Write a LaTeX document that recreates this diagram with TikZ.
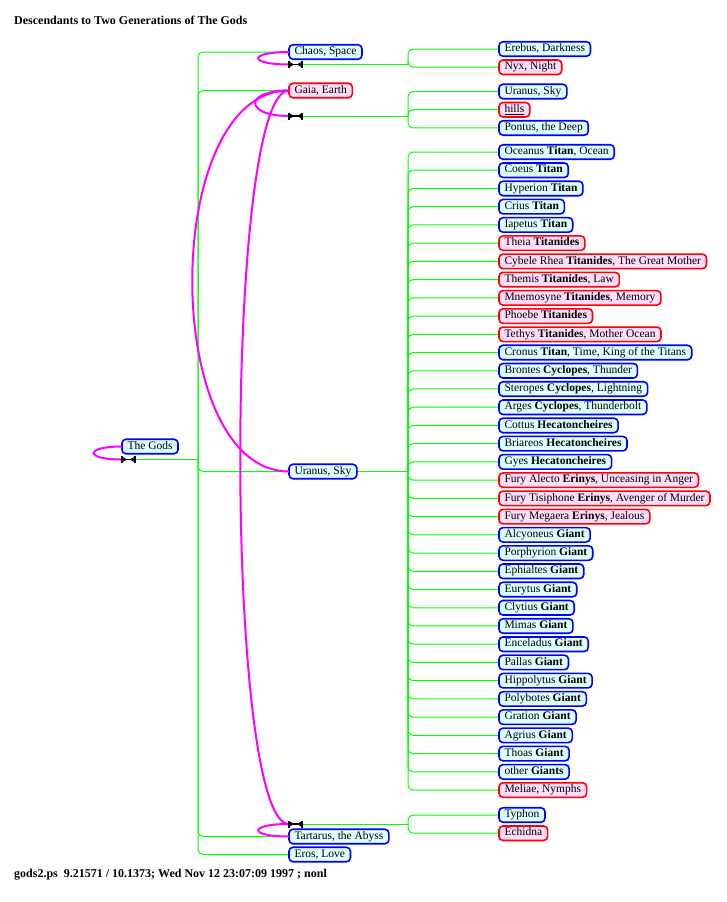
\documentclass[tikz,border=0pt]{standalone}
\usepackage{fontspec}
\setmainfont{Liberation Serif}
\usepackage{tikz}
\usepackage{xcolor}
\usetikzlibrary{positioning, backgrounds}

\definecolor{sonblue}{RGB}{0,0,255}
\definecolor{daughterred}{RGB}{255,0,0}
\definecolor{sonfill}{RGB}{222,255,255}
\definecolor{daughterfill}{RGB}{255,220,250}
\definecolor{linegreen}{RGB}{0,255,0}
\definecolor{loopmagenta}{RGB}{255,0,255}

\tikzstyle{male}   = [rectangle, rounded corners=4pt, draw=sonblue, fill=sonfill, line width=1.6pt, minimum height=14.5pt, inner xsep=5.5pt, inner ysep=1.5pt, text height=8pt, text depth=2.6pt, outer sep=0pt, font=\fontsize{11.5}{13}\selectfont]
\tikzstyle{female} = [male, draw=daughterred, fill=daughterfill]
\tikzstyle{wed}    = [rectangle, minimum width=13pt, minimum height=7pt, inner sep=0pt, outer sep=0pt, anchor=west]
\tikzstyle{kid}    = [draw=linegreen, line width=1pt, rounded corners=5pt]
\tikzstyle{spouse} = [draw=loopmagenta, line width=2pt]
\tikzstyle{wedline}= [black, line width=1.1pt]
\tikzstyle{caption}= [anchor=west, inner sep=0pt, font=\fontsize{12}{14}\selectfont\bfseries]

% marriage glyph drawn over a wed node
\newcommand{\wedmark}[1]{%
  \draw [wedline, line width=1.6pt] (#1.north west) -- (#1.south west);
  \draw [wedline, line width=1.6pt] (#1.north east) -- (#1.south east);
  \draw [wedline] (#1.west) -- (#1.east);
  \draw [wedline] ([yshift=-1.2pt]#1.north west) -- ([xshift=4pt]#1.west) -- ([yshift=1.2pt]#1.south west);
  \draw [wedline] ([yshift=-1.2pt]#1.north east) -- ([xshift=-4pt]#1.east) -- ([yshift=1.2pt]#1.south east);
}

\begin{document}
\begin{tikzpicture}[x=1pt, y=-1pt, node distance=3.73pt]

\useasboundingbox (0,0) rectangle (726,902);

\node (title)  [caption] at (14,20)  {Descendants to Two Generations of The Gods};
\node (footer) [caption] at (14,875) {gods2.ps\ \ 9.21571 / 10.1373; Wed Nov 12 23:07:09 1997 ; nonl};

% generation 0 and 1
\node (gods)     [male, anchor=west]   at (122,446.5) {The Gods};
\node (godsw)    [wed]                 at (122,459.5) {};
\node (chaos)    [male, anchor=west]   at (289,52)    {Chaos, Space};
\node (chaosw)   [wed]                 at (289,64.5)  {};
\node (gaia)     [female, anchor=west] at (289,90.5)  {Gaia, Earth};
\node (gaiaw)    [wed]                 at (289,116)   {};
\node (uranus)   [male, anchor=west]   at (289,471.5) {Uranus, Sky};
\node (tartw)    [wed]                 at (289,824)   {};
\node (tartarus) [male, anchor=west]   at (289,836.5) {Tartarus, the Abyss};
\node (eros)     [male, anchor=west]   at (289,854.5) {Eros, Love};

% children of Chaos
\node (erebus) [male, anchor=west] at (499,49) {Erebus, Darkness};
\node (nyx)    [female, below=of erebus.south west, anchor=north west] {Nyx, Night};

% children of Gaia
\node (uransky) [male, anchor=west] at (499,91.5) {Uranus, Sky};
\node (hills)   [female, below=of uransky.south west, anchor=north west] {\underline{hills}};
\node (pontus)  [male,   below=of hills.south west,   anchor=north west] {Pontus, the Deep};

% children of Uranus and Gaia
\node (oceanus)    [male, anchor=west] at (499,152) {Oceanus \textbf{Titan}, Ocean};
\node (coeus)      [male,   below=of oceanus.south west,    anchor=north west] {Coeus \textbf{Titan}};
\node (hyperion)   [male,   below=of coeus.south west,      anchor=north west] {Hyperion \textbf{Titan}};
\node (crius)      [male,   below=of hyperion.south west,   anchor=north west] {Crius \textbf{Titan}};
\node (iapetus)    [male,   below=of crius.south west,      anchor=north west] {Iapetus \textbf{Titan}};
\node (theia)      [female, below=of iapetus.south west,    anchor=north west] {Theia \textbf{Titanides}};
\node (rhea)       [female, below=of theia.south west,      anchor=north west] {Cybele Rhea \textbf{Titanides}, The Great Mother};
\node (themis)     [female, below=of rhea.south west,       anchor=north west] {Themis \textbf{Titanides}, Law};
\node (mnemosyne)  [female, below=of themis.south west,     anchor=north west] {Mnemosyne \textbf{Titanides}, Memory};
\node (phoebe)     [female, below=of mnemosyne.south west,  anchor=north west] {Phoebe \textbf{Titanides}};
\node (tethys)     [female, below=of phoebe.south west,     anchor=north west] {Tethys \textbf{Titanides}, Mother Ocean};
\node (cronus)     [male,   below=of tethys.south west,     anchor=north west] {Cronus \textbf{Titan}, Time, King of the Titans};
\node (brontes)    [male,   below=of cronus.south west,     anchor=north west] {Brontes \textbf{Cyclopes}, Thunder};
\node (steropes)   [male,   below=of brontes.south west,    anchor=north west] {Steropes \textbf{Cyclopes}, Lightning};
\node (arges)      [male,   below=of steropes.south west,   anchor=north west] {Arges \textbf{Cyclopes}, Thunderbolt};
\node (cottus)     [male,   below=of arges.south west,      anchor=north west] {Cottus \textbf{Hecatoncheires}};
\node (briareos)   [male,   below=of cottus.south west,     anchor=north west] {Briareos \textbf{Hecatoncheires}};
\node (gyes)       [male,   below=of briareos.south west,   anchor=north west] {Gyes \textbf{Hecatoncheires}};
\node (alecto)     [female, below=of gyes.south west,       anchor=north west] {Fury Alecto \textbf{Erinys}, Unceasing in Anger};
\node (tisiphone)  [female, below=of alecto.south west,     anchor=north west] {Fury Tisiphone \textbf{Erinys}, Avenger of Murder};
\node (megaera)    [female, below=of tisiphone.south west,  anchor=north west] {Fury Megaera \textbf{Erinys}, Jealous};
\node (alcyoneus)  [male,   below=of megaera.south west,    anchor=north west] {Alcyoneus \textbf{Giant}};
\node (porphyrion) [male,   below=of alcyoneus.south west,  anchor=north west] {Porphyrion \textbf{Giant}};
\node (ephialtes)  [male,   below=of porphyrion.south west, anchor=north west] {Ephialtes \textbf{Giant}};
\node (eurytus)    [male,   below=of ephialtes.south west,  anchor=north west] {Eurytus \textbf{Giant}};
\node (clytius)    [male,   below=of eurytus.south west,    anchor=north west] {Clytius \textbf{Giant}};
\node (mimas)      [male,   below=of clytius.south west,    anchor=north west] {Mimas \textbf{Giant}};
\node (enceladus)  [male,   below=of mimas.south west,      anchor=north west] {Enceladus \textbf{Giant}};
\node (pallas)     [male,   below=of enceladus.south west,  anchor=north west] {Pallas \textbf{Giant}};
\node (hippolytus) [male,   below=of pallas.south west,     anchor=north west] {Hippolytus \textbf{Giant}};
\node (polybotes)  [male,   below=of hippolytus.south west, anchor=north west] {Polybotes \textbf{Giant}};
\node (gration)    [male,   below=of polybotes.south west,  anchor=north west] {Gration \textbf{Giant}};
\node (agrius)     [male,   below=of gration.south west,    anchor=north west] {Agrius \textbf{Giant}};
\node (thoas)      [male,   below=of agrius.south west,     anchor=north west] {Thoas \textbf{Giant}};
\node (othergiant) [male,   below=of thoas.south west,      anchor=north west] {other \textbf{Giants}};
\node (meliae)     [female, below=of othergiant.south west, anchor=north west] {Meliae, Nymphs};

% children of Tartarus and Gaia
\node (typhon)  [male, anchor=west] at (499,815) {Typhon};
\node (echidna) [female, below=of typhon.south west, anchor=north west] {Echidna};

\coordinate (godfork)   at (198,459.5);
\coordinate (chaosfork) at (408,64.5);
\coordinate (gaiafork)  at (408,116);
\coordinate (uranfork)  at (408,471.5);
\coordinate (tartfork)  at (408,824);

\begin{scope}[on background layer]
\draw [kid] (godsw.east) -- (godfork);
\draw [kid] (godfork) |- (chaos.west);
\draw [kid] (godfork) |- (gaia.west);
\draw [kid] (godfork) |- (uranus.west);
\draw [kid] (godfork) |- (tartarus.west);
\draw [kid] (godfork) |- (eros.west);

\draw [kid] (chaosw.east) -- (chaosfork);
\draw [kid] (chaosfork) |- (erebus.west);
\draw [kid] (chaosfork) |- (nyx.west);

\draw [kid] (gaiaw.east) -- (gaiafork);
\draw [kid] (gaiafork) |- (uransky.west);
\draw [kid] (gaiafork) |- (hills.west);
\draw [kid] (gaiafork) |- (pontus.west);

\draw [kid] (uranus.east) -- (uranfork);
\draw [kid] (uranfork) |- (oceanus.west);
\draw [kid] (uranfork) |- (coeus.west);
\draw [kid] (uranfork) |- (hyperion.west);
\draw [kid] (uranfork) |- (crius.west);
\draw [kid] (uranfork) |- (iapetus.west);
\draw [kid] (uranfork) |- (theia.west);
\draw [kid] (uranfork) |- (rhea.west);
\draw [kid] (uranfork) |- (themis.west);
\draw [kid] (uranfork) |- (mnemosyne.west);
\draw [kid] (uranfork) |- (phoebe.west);
\draw [kid] (uranfork) |- (tethys.west);
\draw [kid] (uranfork) |- (cronus.west);
\draw [kid] (uranfork) |- (brontes.west);
\draw [kid] (uranfork) |- (steropes.west);
\draw [kid] (uranfork) |- (arges.west);
\draw [kid] (uranfork) |- (cottus.west);
\draw [kid] (uranfork) |- (briareos.west);
\draw [kid] (uranfork) |- (gyes.west);
\draw [kid] (uranfork) |- (alecto.west);
\draw [kid] (uranfork) |- (tisiphone.west);
\draw [kid] (uranfork) |- (megaera.west);
\draw [kid] (uranfork) |- (alcyoneus.west);
\draw [kid] (uranfork) |- (porphyrion.west);
\draw [kid] (uranfork) |- (ephialtes.west);
\draw [kid] (uranfork) |- (eurytus.west);
\draw [kid] (uranfork) |- (clytius.west);
\draw [kid] (uranfork) |- (mimas.west);
\draw [kid] (uranfork) |- (enceladus.west);
\draw [kid] (uranfork) |- (pallas.west);
\draw [kid] (uranfork) |- (hippolytus.west);
\draw [kid] (uranfork) |- (polybotes.west);
\draw [kid] (uranfork) |- (gration.west);
\draw [kid] (uranfork) |- (agrius.west);
\draw [kid] (uranfork) |- (thoas.west);
\draw [kid] (uranfork) |- (othergiant.west);
\draw [kid] (uranfork) |- (meliae.west);

\draw [kid] (tartw.east) -- (tartfork);
\draw [kid] (tartfork) |- (typhon.west);
\draw [kid] (tartfork) |- (echidna.west);
\end{scope}

% marriages
\draw [spouse] (gods.west)  .. controls +(-38,0) and +(-38,0) .. (godsw.west);
\draw [spouse] (chaos.west) .. controls +(-41,0) and +(-41,0) .. (chaosw.west);
\draw [spouse] (gaia.west)  .. controls +(-45,0) and +(-45,0) .. (gaiaw.west);
\draw [spouse] (gaia.west)  .. controls +(-129,0) and +(-129,0) .. (uranus.west);
\draw [spouse] (gaia.west)  .. controls +(-65,0) and +(-65,0) .. (tartw.west);
\draw [spouse] (tartarus.west) .. controls +(-41,0) and +(-41,0) .. (tartw.west);

\wedmark{godsw}
\wedmark{chaosw}
\wedmark{gaiaw}
\wedmark{tartw}

\end{tikzpicture}
\end{document}
